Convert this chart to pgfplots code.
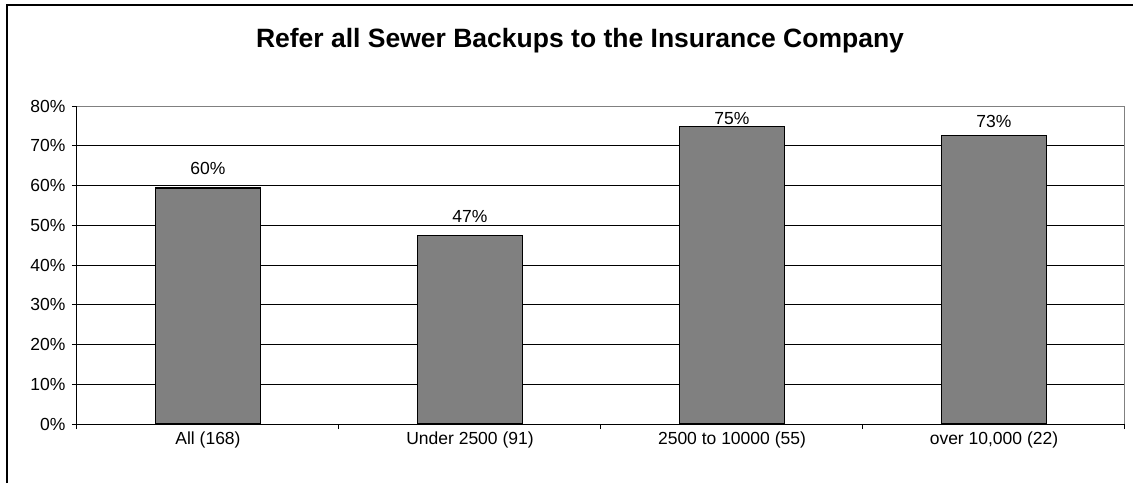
\documentclass[border=0pt]{standalone}
\usepackage{fontspec}
\setmainfont{Liberation Sans}
\usepackage{pgfplots}
\pgfplotsset{compat=1.18}
\begin{document}
\begin{tikzpicture}[x=1pt,y=1pt]
\useasboundingbox (0,0) rectangle (1133,483);
\fill[white] (0,0) rectangle (1133,483);
\draw[line width=2pt] (7,0) -- (7,478) -- (1133,478);
\node[anchor=base, inner sep=0pt, font=\fontsize{26.5}{30}\selectfont\bfseries] at (580,435) {Refer all Sewer Backups to the Insurance Company};
\begin{axis}[
  at={(77pt,59pt)}, anchor=south west, scale only axis,
  width=1048pt, height=318pt,
  xmin=-0.5, xmax=3.5, ymin=0, ymax=80,
  axis lines*=left,
  axis line style={black, line width=1pt},
  /pgf/number format/assume math mode=true,
  tick label style={font=\fontsize{17.5}{20}\selectfont},
  ytick={0,10,...,80},
  yticklabel={\pgfmathprintnumber{\tick}\%},
  yticklabel style={xshift=-3pt},
  ymajorgrids,
  grid style={black, line width=1pt},
  tick align=outside,
  major tick length=5pt,
  tick style={black, line width=1pt},
  xtick={-0.5,0.5,1.5,2.5,3.5},
  xticklabels={},
  extra x ticks={0,1,2,3},
  extra x tick labels={All (168), Under 2500 (91), 2500 to 10000 (55), {over 10,000 (22)}},
  extra x tick style={major tick length=0pt, xticklabel style={yshift=-4pt}},
  barstyle/.style={ybar, bar width=0.4, fill=gray, draw=black, line width=1.3pt,
    nodes near coords, point meta=explicit symbolic},
]
\addplot[barstyle,
  every node near coord/.append style={font=\fontsize{17.5}{20}\selectfont, yshift=9.5pt, black}]
  coordinates {(0,59.4)[60\%] (1,47.4)[47\%]};
\addplot[barstyle,
  every node near coord/.append style={font=\fontsize{17.5}{20}\selectfont, yshift=-1.8pt, black}]
  coordinates {(2,74.8)[75\%]};
\addplot[barstyle,
  every node near coord/.append style={font=\fontsize{17.5}{20}\selectfont, yshift=4.2pt, black}]
  coordinates {(3,72.6)[73\%]};
\draw[gray, line width=1pt] (rel axis cs:0,1) -- (rel axis cs:1,1) -- (rel axis cs:1,0);
\end{axis}
\end{tikzpicture}
\end{document}
